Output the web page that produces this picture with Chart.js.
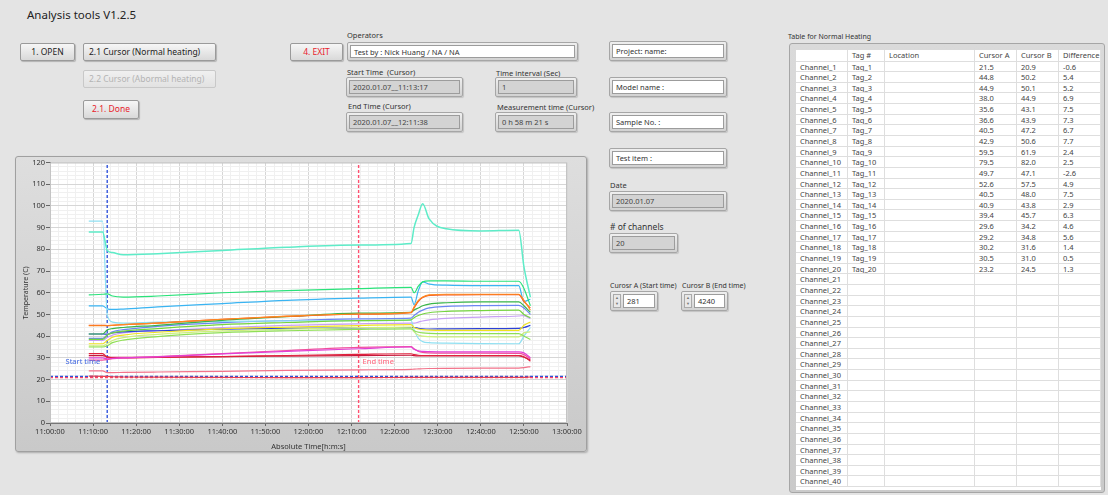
<!DOCTYPE html>
<html>
<head>
<meta charset="utf-8">
<script src="https://cdn.jsdelivr.net/npm/chart.js@4.4.1/dist/chart.umd.min.js"></script>
<style>
body{margin:0;background:#e4e4e4;font-family:"Noto Sans",sans-serif;color:#333;width:1108px;height:495px;overflow:hidden;position:relative}
.btn{position:absolute;box-sizing:border-box;border:1px solid #9a9a9a;border-radius:2px;background:linear-gradient(#f6f6f6,#d9d9d9);box-shadow:1px 1px 1px rgba(0,0,0,.22);font-size:8.5px;line-height:15px;text-align:center;color:#222;white-space:nowrap}
.lbl{position:absolute;font-size:7.5px;white-space:nowrap;color:#333;line-height:10px}
.fld{position:absolute;box-sizing:border-box;border:1px solid #a6a6a6;border-radius:2px;background:linear-gradient(#efefef,#d2d2d2);padding:2px;box-shadow:1px 1px 1px rgba(0,0,0,.15)}
.fld .in{box-sizing:border-box;height:100%;background:#fff;border:1px solid #9c9c9c;font-size:7.5px;padding-left:3px;line-height:12px;white-space:nowrap;overflow:hidden;color:#333}
.ind .in{background:#d3d3d3;color:#444}
.spin{position:absolute;width:8px;top:2px;bottom:2px;left:2px;border:1px solid #aaa;background:#e8e8e8;box-sizing:border-box;font-size:4px;line-height:6px;text-align:center;color:#777}
#panel{position:absolute;left:15px;top:156px;width:572px;height:296px;box-sizing:border-box;border:1px solid #a0a0a0;border-radius:3px;background:linear-gradient(#dedede,#c9c9c9);box-shadow:1px 1px 2px rgba(0,0,0,.25)}
#tblFrame{position:absolute;left:789px;top:43px;width:316px;height:450px;box-sizing:border-box;border:1px solid #a6a6a6;border-radius:3px;background:linear-gradient(#dadada,#cacaca)}
#tbl{position:absolute;left:796px;top:50px;width:305px;height:440px;background:#fff;display:grid;grid-template-columns:52px 37px 90px 42px 42px 42px;grid-template-rows:11.5px repeat(40,10.65px)}
#tbl div{box-sizing:border-box;border-right:1px solid #dedede;border-bottom:1px solid #dedede;font-size:7.5px;line-height:10px;padding-left:4px;white-space:nowrap;overflow:hidden;color:#444}
</style>
</head>
<body>
<div class="lbl" style="left:27px;top:6px;font-size:11.5px;line-height:18px;color:#222">Analysis tools V1.2.5</div>

<div class="btn" style="left:20px;top:43px;width:55px;height:18px">1. OPEN</div>
<div class="btn" style="left:83px;top:43px;width:133px;height:18px;text-align:left;padding-left:5px">2.1 Cursor (Normal heating)</div>
<div class="btn" style="left:83px;top:70px;width:133px;height:18px;text-align:left;padding-left:5px;color:#b4b4b4;border-color:#c8c8c8;background:linear-gradient(#f0f0f0,#e2e2e2);box-shadow:none">2.2 Cursor (Abormal heating)</div>
<div class="btn" style="left:83px;top:100px;width:56px;height:19px;color:#e8242c">2.1. Done</div>
<div class="btn" style="left:290px;top:43px;width:53px;height:18px;color:#e8242c">4. EXIT</div>

<div class="lbl" style="left:347px;top:30px">Operators</div>
<div class="fld" style="left:347px;top:42px;width:231px;height:19px"><div class="in">Test by : Nick Huang / NA / NA</div></div>
<div class="lbl" style="left:347px;top:67px">Start Time&nbsp; (Cursor)</div>
<div class="fld ind" style="left:346px;top:77px;width:117px;height:20px"><div class="in">2020.01.07__11:13:17</div></div>
<div class="lbl" style="left:496px;top:68px">Time interval (Sec)</div>
<div class="fld ind" style="left:495px;top:77px;width:82px;height:20px"><div class="in">1</div></div>
<div class="lbl" style="left:348px;top:101px">End Time (Cursor)</div>
<div class="fld ind" style="left:346px;top:112px;width:117px;height:20px"><div class="in">2020.01.07__12:11:38</div></div>
<div class="lbl" style="left:497px;top:102px">Measurement time (Cursor)</div>
<div class="fld ind" style="left:495px;top:112px;width:82px;height:20px"><div class="in">0 h 58 m 21 s</div></div>

<div class="fld" style="left:609px;top:41px;width:118px;height:20px"><div class="in">Project: name:</div></div>
<div class="fld" style="left:609px;top:77px;width:118px;height:20px"><div class="in">Model name :</div></div>
<div class="fld" style="left:609px;top:112px;width:118px;height:20px"><div class="in">Sample No. :</div></div>
<div class="fld" style="left:609px;top:148px;width:118px;height:20px"><div class="in">Test item :</div></div>
<div class="lbl" style="left:610px;top:180px">Date</div>
<div class="fld ind" style="left:609px;top:191px;width:118px;height:20px"><div class="in">2020.01.07</div></div>
<div class="lbl" style="left:610px;top:221px;font-size:8.5px;line-height:12px">&#35; of channels</div>
<div class="fld ind" style="left:609px;top:233px;width:69px;height:20px"><div class="in">20</div></div>
<div class="lbl" style="left:610px;top:281px;font-size:7px">Curosr A (Start time)</div>
<div class="lbl" style="left:682px;top:281px;font-size:7px">Curosr B (End time)</div>
<div class="fld" style="left:610px;top:291px;width:48px;height:20px;padding-left:12px"><div class="spin">&#9650;<br>&#9660;</div><div class="in">281</div></div>
<div class="fld" style="left:681px;top:291px;width:47px;height:20px;padding-left:12px"><div class="spin">&#9650;<br>&#9660;</div><div class="in">4240</div></div>

<div id="panel"><canvas id="tempChart" width="570" height="294"></canvas></div>

<div class="lbl" style="left:788px;top:32px;font-size:7px">Table for Normal Heating</div>
<div id="tblFrame"></div>
<div id="tbl"></div>

<script>
// sample times, minutes after 11:00:00
const timeMin = [9.0, 12.2, 13.3, 14.5, 17, 25, 40, 55, 71.6, 83.8, 84.5, 85.5, 86.5, 88, 92, 100, 108.8, 110, 111.5];

const ch1  = [21.6, 21.5, 21.5, 21.3, 21.2, 21.1, 21.0, 20.9, 20.9, 21.0, 21.0, 21.0, 21.0, 21.0, 21.0, 21.0, 21.0, 21.0, 21.2];
const ch2  = [44.8, 44.8, 44.8, 45.0, 45.3, 46.0, 47.8, 49.2, 50.2, 51.0, 53.5, 56.5, 58.0, 59.0, 59.3, 59.3, 59.3, 56.5, 52.0];
const ch3  = [45.0, 45.0, 44.9, 45.0, 45.3, 46.0, 47.8, 49.1, 50.1, 50.8, 53.0, 56.0, 57.8, 58.8, 59.0, 59.1, 59.1, 56.0, 53.0];
const ch4  = [36.5, 36.5, 38.0, 39.5, 40.5, 41.8, 43.4, 44.2, 44.9, 45.3, 44.0, 43.3, 43.0, 42.8, 42.7, 42.7, 42.7, 45.0, 46.5];
const ch5  = [35.0, 35.0, 35.6, 37.0, 38.2, 39.8, 41.6, 42.5, 43.1, 43.4, 42.5, 41.8, 41.5, 41.3, 41.2, 41.2, 41.2, 40.0, 38.5];
const ch6  = [35.5, 35.5, 36.6, 38.0, 39.3, 40.8, 42.4, 43.2, 43.9, 44.2, 42.0, 40.5, 40.0, 39.8, 39.7, 39.7, 39.7, 41.5, 42.0];
const ch7  = [38.5, 38.5, 40.5, 41.5, 42.3, 43.5, 45.3, 46.3, 47.2, 47.5, 48.5, 49.5, 50.2, 50.8, 51.4, 51.8, 52.0, 50.0, 48.5];
const ch8  = [41.0, 41.0, 42.9, 43.5, 44.0, 45.0, 47.3, 49.0, 50.6, 51.0, 52.0, 53.0, 54.0, 54.8, 55.4, 55.8, 55.8, 54.0, 51.0];
const ch9  = [59.0, 59.3, 59.5, 58.5, 58.0, 58.5, 60.0, 61.0, 61.9, 62.5, 60.0, 63.0, 65.0, 65.5, 65.5, 65.3, 65.3, 62.0, 54.0];
const ch10 = [88.0, 88.0, 79.5, 78.5, 77.5, 78.0, 79.5, 81.0, 82.0, 82.7, 90.0, 96.0, 101.0, 94.0, 89.5, 88.5, 88.8, 72.0, 58.0];
const ch11 = [93.0, 93.0, 49.7, 46.5, 46.0, 46.5, 46.8, 47.0, 47.1, 47.3, 43.0, 39.0, 37.5, 37.0, 36.8, 36.6, 36.5, 40.0, 44.0];
const ch12 = [54.0, 54.0, 52.6, 52.3, 52.5, 53.5, 55.0, 56.5, 57.5, 58.0, 54.5, 61.0, 65.0, 64.0, 63.5, 63.3, 63.3, 56.0, 57.0];
const ch13 = [39.0, 39.0, 40.5, 42.0, 43.0, 44.5, 46.2, 47.2, 48.0, 48.3, 49.5, 51.0, 52.0, 53.0, 53.7, 54.1, 54.2, 53.0, 50.0];
const ch14 = [41.0, 41.0, 40.9, 41.5, 42.0, 42.5, 43.2, 43.6, 43.8, 44.0, 44.0, 43.6, 43.4, 43.3, 43.4, 43.5, 43.6, 44.0, 45.0];
const ch15 = [38.0, 38.0, 39.4, 40.5, 41.5, 42.5, 44.0, 45.0, 45.7, 46.0, 46.0, 46.5, 47.0, 47.5, 48.2, 48.8, 49.3, 49.5, 48.0];
const ch16 = [30.0, 30.0, 29.6, 29.8, 30.0, 30.5, 31.8, 33.0, 34.2, 35.0, 34.0, 33.2, 33.0, 32.9, 32.8, 32.8, 32.8, 32.3, 30.0];
const ch17 = [29.0, 29.0, 29.2, 29.6, 30.0, 30.6, 32.0, 33.4, 34.8, 35.2, 34.2, 33.0, 32.5, 32.3, 32.2, 32.2, 32.1, 31.5, 29.5];
const ch18 = [32.0, 32.0, 30.2, 30.0, 30.0, 30.2, 30.6, 31.1, 31.6, 31.9, 31.5, 31.2, 31.1, 31.1, 31.1, 31.1, 31.1, 30.5, 28.5];
const ch19 = [31.0, 31.0, 30.5, 30.2, 30.2, 30.3, 30.6, 30.8, 31.0, 31.2, 31.0, 30.9, 30.9, 30.9, 30.9, 30.9, 30.9, 30.3, 29.0];
const ch20 = [24.0, 24.0, 23.2, 23.2, 23.3, 23.5, 23.8, 24.2, 24.5, 24.7, 24.8, 24.9, 25.0, 25.1, 25.2, 25.3, 25.3, 25.5, 26.0];

const channelSeries = [ch1, ch2, ch3, ch4, ch5, ch6, ch7, ch8, ch9, ch10, ch11, ch12, ch13, ch14, ch15, ch16, ch17, ch18, ch19, ch20];
const channelColors = ['#e84050', '#ff8a20', '#f0501c', '#efe21e', '#8fdf55', '#cdef7d', '#74d43e', '#3ab54a', '#2ae27a', '#5eecc8',
                       '#8fe0f2', '#3ab4f2', '#6b86f2', '#2b40d8', '#c7a0f5', '#e23fd6', '#f0509c', '#e2203c', '#c4183a', '#f2738a'];

// cursors (time in minutes, temperature)
const cursorA = { t: 13.28, v: 21.5 };
const cursorB = { t: 71.63, v: 20.9 };

// table
const tagNames = ['Tag_1','Tag_2','Tag_3','Tag_4','Tag_5','Tag_6','Tag_7','Tag_8','Tag_9','Tag_10',
                  'Tag_11','Tag_12','Tag_13','Tag_14','Tag_15','Tag_16','Tag_17','Tag_18','Tag_19','Tag_20'];
const cursorAVals = ['21.5','44.8','44.9','38.0','35.6','36.6','40.5','42.9','59.5','79.5','49.7','52.6','40.5','40.9','39.4','29.6','29.2','30.2','30.5','23.2'];
const cursorBVals = ['20.9','50.2','50.1','44.9','43.1','43.9','47.2','50.6','61.9','82.0','47.1','57.5','48.0','43.8','45.7','34.2','34.8','31.6','31.0','24.5'];
const diffVals    = ['-0.6','5.4','5.2','6.9','7.5','7.3','6.7','7.7','2.4','2.5','-2.6','4.9','7.5','2.9','6.3','4.6','5.6','1.4','0.5','1.3'];
const tableHeaders = ['', 'Tag #', 'Location', 'Cursor A', 'Cursor B', 'Difference'];
const tableRows = 40;

const tbl = document.getElementById('tbl');
function cell(txt) {
    const d = document.createElement('div');
    d.textContent = txt;
    tbl.appendChild(d);
}
tableHeaders.forEach(h => cell(h));
for (let i = 0; i < tableRows; i++) {
    cell('Channel_' + (i + 1));
    cell(tagNames[i] || '');
    cell('');
    cell(cursorAVals[i] || '');
    cell(cursorBVals[i] || '');
    cell(diffVals[i] || '');
}

function fmtTime(m) {
    const h = 11 + Math.floor(m / 60);
    const mm = Math.round(m % 60);
    return h + ':' + String(mm).padStart(2, '0') + ':00';
}

const datasets = channelSeries.map((vals, i) => ({
    label: 'Channel_' + (i + 1),
    data: timeMin.map((t, k) => ({ x: t, y: vals[k] })),
    borderColor: channelColors[i],
    borderWidth: i === 9 ? 1.5 : 1.2,
    pointRadius: 0,
    cubicInterpolationMode: 'monotone',
    fill: false
}));

// cursor crosshairs
const cursorLine = (pts, color) => ({
    data: pts, borderColor: color, borderWidth: 1.4, borderDash: [3, 2],
    pointRadius: 0, fill: false, tension: 0
});
datasets.push(cursorLine([{ x: 0, y: cursorB.v }, { x: 120, y: cursorB.v }], '#ff4060'));
datasets.push(cursorLine([{ x: 0, y: cursorA.v }, { x: 120, y: cursorA.v }], '#3050d8'));
datasets.push(cursorLine([{ x: cursorB.t, y: 0 }, { x: cursorB.t, y: 120 }], '#ff5070'));
datasets.push(cursorLine([{ x: cursorA.t, y: 0 }, { x: cursorA.t, y: 120 }], '#3355dd'));

const plotBg = {
    id: 'plotBg',
    beforeDraw(chart) {
        const { ctx, chartArea: a } = chart;
        ctx.save();
        ctx.fillStyle = '#ffffff';
        ctx.fillRect(a.left, a.top, a.right - a.left, a.bottom - a.top);
        ctx.restore();
    },
    afterDatasetsDraw(chart) {
        const { ctx, scales: { x, y } } = chart;
        ctx.save();
        ctx.font = '7.5px "Noto Sans"';
        ctx.textBaseline = 'middle';
        ctx.fillStyle = '#3a62e0';
        ctx.textAlign = 'right';
        ctx.fillText('Start time', x.getPixelForValue(cursorA.t) - 7, y.getPixelForValue(28.2));
        ctx.fillStyle = '#ff6078';
        ctx.textAlign = 'left';
        ctx.fillText('End time', x.getPixelForValue(cursorB.t) + 4, y.getPixelForValue(28.2));
        const a = chart.chartArea;
        ctx.strokeStyle = '#c4c4c4';
        ctx.lineWidth = 1;
        ctx.strokeRect(a.left + 0.5, a.top + 0.5, a.right - a.left - 1, a.bottom - a.top - 1);
        ctx.restore();
    }
};

const isMajor = v => Math.abs(v % 10) < 1e-6;

new Chart(document.getElementById('tempChart'), {
    type: 'line',
    data: { datasets },
    options: {
        responsive: false,
        animation: false,
        layout: { padding: { top: 5, right: 19, left: 6, bottom: 0 } },
        plugins: { legend: { display: false }, tooltip: { enabled: false } },
        scales: {
            x: {
                type: 'linear', min: 0, max: 120,
                afterFit: s => { s.height = 28; },
                ticks: {
                    stepSize: 2, autoSkip: false, maxRotation: 0, padding: 1,
                    color: '#333', font: { size: 7.5, family: 'Noto Sans' },
                    callback: v => isMajor(v) ? fmtTime(v) : ''
                },
                grid: {
                    color: c => isMajor(c.tick.value) ? '#d6d6d6' : '#f0f0f0',
                    tickColor: c => isMajor(c.tick.value) ? '#666' : 'rgba(0,0,0,0)',
                    tickLength: 3
                },
                border: { color: '#777' },
                title: { display: true, text: 'Absolute Time[h:m:s]', color: '#333', font: { size: 7.5, family: 'Noto Sans' }, padding: 0 }
            },
            y: {
                min: 0, max: 120,
                afterFit: s => { s.width = 28; },
                ticks: {
                    stepSize: 2, autoSkip: false, padding: 1,
                    color: '#333', font: { size: 7.5, family: 'Noto Sans' },
                    callback: v => isMajor(v) ? v : ''
                },
                grid: {
                    color: c => isMajor(c.tick.value) ? '#d6d6d6' : '#f0f0f0',
                    tickColor: c => isMajor(c.tick.value) ? '#666' : 'rgba(0,0,0,0)',
                    tickLength: 4
                },
                border: { color: '#777' },
                title: { display: true, text: 'Temperature (C)', color: '#333', font: { size: 7, family: 'Noto Sans' }, padding: 0 }
            }
        }
    },
    plugins: [plotBg]
});
</script>
</body>
</html>
